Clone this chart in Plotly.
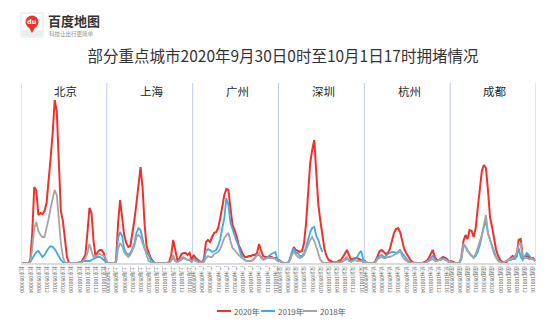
import plotly.graph_objects as go

# ---- data: hourly congestion increase, 09-30 00:00 .. 10-01 17:00 (42 hours per city)
cities = ["北京", "上海", "广州", "深圳", "杭州", "成都"]
city_codes = ["北京", "上海", "广州", "深圳", "杭州", "成都"]
tick_times = ["093000", "093004", "093008", "093012", "093016", "093020",
              "100100", "100104", "100108", "100112", "100116"]
years = ["2020年", "2019年", "2018年"]

bj_2020 = [0,0,0,0,2,30,76,72,48,50,49,52,60,80,105,130,163,152,95,52,42,22,6,0,0,0,0,0,0,1,4,8,30,55,50,22,6,11,13,13,10,1]
bj_2019 = [0,0,0,0,1,4,8,11,12,9,6,8,12,15,17,16,14,10,6,3,1,0,0,0,0,0,0,0,1,1,2,2,2,2,3,4,5,6,6,5,3,1]
bj_2018 = [0,0,0,0,0,15,35,41,32,28,26,26,34,44,55,66,73,68,45,20,6,1,0,0,0,0,0,0,0,0,2,5,10,19,12,6,7,8,9,8,7,4]

sh_2020 = [0,0,0,0,1,40,63,45,28,20,16,17,28,43,60,82,96,75,38,16,10,5,2,0,0,0,0,0,0,0,1,8,23,14,3,4,9,10,10,8,10,3]
sh_2019 = [0,0,0,0,0,25,31,27,14,10,8,10,14,20,30,35,33,24,14,11,8,3,1,0,0,0,0,0,0,0,1,3,5,2,1,2,4,5,4,3,3,1]
sh_2018 = [0,0,0,0,0,14,20,17,11,8,6,8,12,17,26,28,26,20,12,6,2,1,0,0,0,0,0,0,0,0,0,2,8,2,1,2,5,6,4,3,4,2]

gz_2020 = [8,5,3,1,0,4,21,23,21,26,30,31,35,45,58,68,74,73,55,38,33,27,18,13,9,6,6,7,7,8,8,10,19,12,7,6,6,6,6,5,5,3]
gz_2019 = [4,3,2,1,0,2,12,14,13,11,12,13,17,24,35,45,65,58,40,33,28,22,17,9,5,3,2,2,2,3,6,8,8,6,4,4,6,7,9,10,11,3]
gz_2018 = [3,2,1,0,0,1,5,7,6,6,9,10,11,14,20,25,28,30,22,15,13,10,8,6,4,3,2,2,2,3,5,7,10,5,3,4,5,5,5,5,4,2]

sz_2020 = [2,1,0,0,0,3,10,16,13,12,11,12,20,40,75,100,113,123,90,58,42,27,14,7,3,2,1,1,1,2,3,6,10,13,8,3,4,5,5,4,3,1]
sz_2019 = [3,1,0,0,0,3,11,15,10,10,7,7,10,16,25,31,35,36,27,23,16,11,None,None,None,None,1,1,1,1,1,2,3,4,3,2,3,4,6,10,12,3]
sz_2018 = [2,1,0,0,0,2,8,11,8,6,5,6,8,13,18,23,26,22,16,8,3,1,0,0,0,0,0,0,0,0,0,2,4,6,2,1,2,3,2,2,2,1]

hz_2020 = [1,0,0,0,0,2,8,12,13,11,9,10,14,22,30,34,35,31,22,14,10,6,3,1,0,0,0,0,0,1,2,5,9,13,6,3,3,5,6,5,4,1]
hz_2019 = [2,0,0,0,0,1,5,7,8,6,7,9,10,11,11,10,11,13,10,7,4,2,1,0,0,0,0,0,0,0,1,3,5,7,4,2,3,4,4,4,3,1]
hz_2018 = [1,0,0,0,0,1,4,5,6,5,5,6,6,7,8,9,10,12,7,4,2,1,0,0,0,0,0,0,0,0,1,2,3,4,2,2,3,3,4,3,2,1]

cd_2020 = [2,1,0,0,0,6,22,28,24,33,32,26,35,55,75,92,98,95,73,46,36,24,13,7,3,1,0,1,3,5,7,6,7,23,24,6,6,7,6,5,5,3]
cd_2019 = [1,0,0,0,0,4,18,16,12,10,7,5,7,11,18,28,36,42,30,23,17,10,6,3,1,0,1,2,3,3,4,4,6,15,6,3,7,10,8,5,4,2]
cd_2018 = [1,0,0,0,0,6,19,17,13,9,7,6,9,15,22,28,38,48,30,23,16,9,5,2,1,0,1,2,3,4,5,6,10,18,20,6,5,5,4,4,4,2]

series_2020 = bj_2020 + sh_2020 + gz_2020 + sz_2020 + hz_2020 + cd_2020
series_2019 = bj_2019 + sh_2019 + gz_2019 + sz_2019 + hz_2019 + cd_2019
series_2018 = bj_2018 + sh_2018 + gz_2018 + sz_2018 + hz_2018 + cd_2018

colors = {"2020年": "#f2302b", "2019年": "#3faae8", "2018年": "#a5a5a5"}
HOURS = 42
N = HOURS * len(cities)
x = list(range(N))

# ---- page geometry helpers (pixel -> paper)
W, H = 554, 322
L, R, T, B = 21, 536, 83, 263


def px_x(p):
    return (p - L) / (R - L)


def px_y(p):
    return (B - p) / (B - T)


FONT = "Noto Sans CJK SC, Noto Sans, sans-serif"

fig = go.Figure()
for name, ys, w in [("2020年", series_2020, 2.0), ("2019年", series_2019, 1.8), ("2018年", series_2018, 1.8)]:
    fig.add_trace(go.Scatter(x=x, y=ys, mode="lines", name=name,
                             line=dict(color=colors[name], width=w),
                             connectgaps=False, showlegend=False, hoverinfo="skip"))

# tick labels every 4 hours
tickvals, ticktext = [], []
for ci, code in enumerate(city_codes):
    for ti, t in enumerate(tick_times):
        tickvals.append(ci * HOURS + ti * 4)
        ticktext.append(code + t)

shapes = []
annotations = []

# panel separators
for i in range(len(cities) + 1):
    xv = i * HOURS - 0.5
    shapes.append(dict(type="line", xref="x", yref="paper", x0=xv, x1=xv, y0=0, y1=1,
                       line=dict(color="#bccde9", width=1), layer="below"))

# city headers
for i, c in enumerate(cities):
    annotations.append(dict(text=c, xref="x", yref="paper", x=i * HOURS + 21.5, y=px_y(91),
                            showarrow=False, xanchor="center", yanchor="middle",
                            font=dict(size=11.5, color="#262626", family=FONT)))

# legend drawn along the bottom
legend_pos = [("2020年", 217), ("2019年", 261), ("2018年", 303)]
for name, lx in legend_pos:
    shapes.append(dict(type="line", xref="paper", yref="paper",
                       x0=px_x(lx), x1=px_x(lx + 14), y0=px_y(311), y1=px_y(311),
                       line=dict(color=colors[name], width=2)))
    annotations.append(dict(text=name, xref="paper", yref="paper", x=px_x(lx + 15), y=px_y(311),
                            showarrow=False, xanchor="left", yanchor="middle",
                            font=dict(size=8, color="#595959", family=FONT)))

# brand mark in the top-left corner
shapes.append(dict(type="rect", xref="paper", yref="paper",
                   x0=px_x(21), x1=px_x(43), y0=px_y(13), y1=px_y(37),
                   line=dict(color="#e3e3e3", width=1), fillcolor="#ffffff"))
shapes.append(dict(type="rect", xref="paper", yref="paper",
                   x0=px_x(22), x1=px_x(42), y0=px_y(30), y1=px_y(36),
                   line=dict(width=0), fillcolor="#e4f1ea"))
shapes.append(dict(type="path", xref="paper", yref="paper",
                   path="M {} {} L {} {} L {} {} Z".format(px_x(27.5), px_y(25), px_x(36.5), px_y(25),
                                                          px_x(32), px_y(33)),
                   line=dict(width=0), fillcolor="#e8342b"))
shapes.append(dict(type="circle", xref="paper", yref="paper",
                   x0=px_x(25.5), x1=px_x(38.5), y0=px_y(15.5), y1=px_y(28.5),
                   line=dict(width=0), fillcolor="#e8342b"))
annotations.append(dict(text="<b>du</b>", xref="paper", yref="paper", x=px_x(32), y=px_y(22),
                        showarrow=False, xanchor="center", yanchor="middle",
                        font=dict(size=6.5, color="#ffffff", family="DejaVu Sans")))
annotations.append(dict(text="<b>百度地图</b>", xref="paper", yref="paper", x=px_x(46), y=px_y(20.5),
                        showarrow=False, xanchor="left", yanchor="middle",
                        font=dict(size=13, color="#333333", family=FONT)))
annotations.append(dict(text="科技让出行更简单", xref="paper", yref="paper", x=px_x(47), y=px_y(34),
                        showarrow=False, xanchor="left", yanchor="middle",
                        font=dict(size=5.5, color="#8c8c8c", family=FONT)))

fig.update_layout(
    width=W, height=H,
    margin=dict(l=L, r=W - R, t=T, b=H - B, pad=0),
    paper_bgcolor="#ffffff", plot_bgcolor="#ffffff",
    font=dict(family=FONT),
    title=dict(text="部分重点城市2020年9月30日0时至10月1日17时拥堵情况",
               x=283 / W, y=1 - 57 / H, xanchor="center", yanchor="middle",
               font=dict(size=15.5, color="#333333", family=FONT)),
    xaxis=dict(range=[-0.5, N - 0.5], tickmode="array", tickvals=tickvals, ticktext=ticktext,
               tickangle=90, tickfont=dict(size=5, color="#6b6b6b", family=FONT),
               showgrid=False, zeroline=False, showline=True, linecolor="#dcdcdc", linewidth=2,
               ticks=""),
    yaxis=dict(range=[0, 180], visible=False, showgrid=False, zeroline=False),
    shapes=shapes,
    annotations=annotations,
    showlegend=False,
)

fig.write_html("out.html")
